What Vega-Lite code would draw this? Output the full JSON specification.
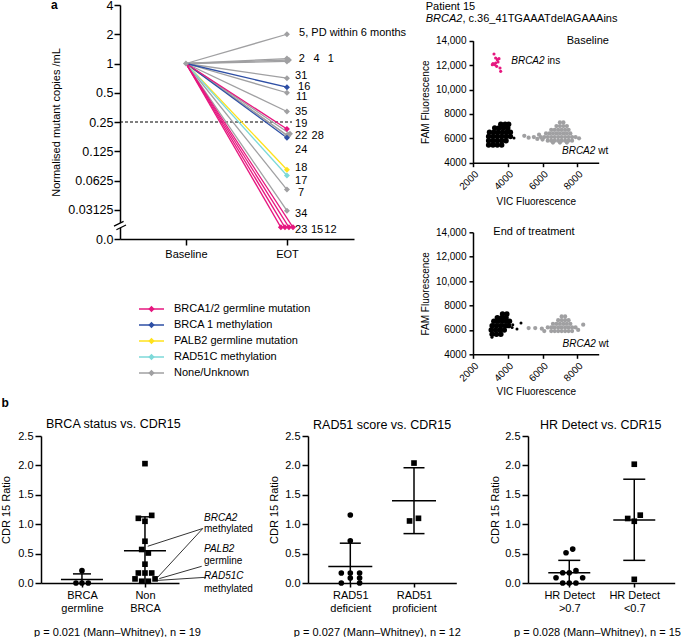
{
  "$schema": "https://vega.github.io/schema/vega-lite/v6.json",
  "background": "white",
  "padding": {"left": 0, "top": -1, "right": 0, "bottom": 0},
  "config": {
    "font": "Liberation Sans",
    "view": {"stroke": null},
    "axis": {"grid": false, "domainColor": "black", "tickColor": "black", "labelColor": "black", "titleColor": "black", "titleFontWeight": "normal", "domainWidth": 1.5, "tickWidth": 1.5, "labelFont": "Liberation Sans", "titleFont": "Liberation Sans"},
    "title": {"fontWeight": "normal", "color": "black", "font": "Liberation Sans", "subtitleColor": "black", "subtitleFont": "Liberation Sans"},
    "text": {"font": "Liberation Sans", "color": "black"}
  },
  "datasets": {
    "lines": [
      {"pid": "g5", "grp": "None/Unknown", "t": 0, "v": 0}, {"pid": "g5", "grp": "None/Unknown", "t": 1, "v": 1.0},
      {"pid": "g2", "grp": "None/Unknown", "t": 0, "v": 0}, {"pid": "g2", "grp": "None/Unknown", "t": 1, "v": 0.17},
      {"pid": "g4", "grp": "None/Unknown", "t": 0, "v": 0}, {"pid": "g4", "grp": "None/Unknown", "t": 1.02, "v": 0.12},
      {"pid": "g1", "grp": "None/Unknown", "t": 0, "v": 0}, {"pid": "g1", "grp": "None/Unknown", "t": 1, "v": 0.07},
      {"pid": "g31", "grp": "None/Unknown", "t": 0, "v": 0}, {"pid": "g31", "grp": "None/Unknown", "t": 1, "v": -0.5},
      {"pid": "g11", "grp": "None/Unknown", "t": 0, "v": 0}, {"pid": "g11", "grp": "None/Unknown", "t": 1, "v": -1.0},
      {"pid": "g35", "grp": "None/Unknown", "t": 0, "v": 0}, {"pid": "g35", "grp": "None/Unknown", "t": 1, "v": -1.64},
      {"pid": "g28", "grp": "None/Unknown", "t": 0, "v": 0}, {"pid": "g28", "grp": "None/Unknown", "t": 1.03, "v": -2.4},
      {"pid": "g24", "grp": "None/Unknown", "t": 0, "v": 0}, {"pid": "g24", "grp": "None/Unknown", "t": 1, "v": -2.45},
      {"pid": "g26", "grp": "None/Unknown", "t": 0, "v": 0}, {"pid": "g26", "grp": "None/Unknown", "t": 1.01, "v": -2.48},
      {"pid": "g7", "grp": "None/Unknown", "t": 0, "v": 0}, {"pid": "g7", "grp": "None/Unknown", "t": 1, "v": -4.31},
      {"pid": "g34", "grp": "None/Unknown", "t": 0, "v": 0}, {"pid": "g34", "grp": "None/Unknown", "t": 1, "v": -5.03},
      {"pid": "b16", "grp": "BRCA 1 methylation", "t": 0, "v": 0}, {"pid": "b16", "grp": "BRCA 1 methylation", "t": 1, "v": -0.81},
      {"pid": "b22", "grp": "BRCA 1 methylation", "t": 0, "v": 0}, {"pid": "b22", "grp": "BRCA 1 methylation", "t": 1, "v": -2.54},
      {"pid": "y18", "grp": "PALB2 germline mutation", "t": 0, "v": 0}, {"pid": "y18", "grp": "PALB2 germline mutation", "t": 1, "v": -3.63},
      {"pid": "c17", "grp": "RAD51C methylation", "t": 0, "v": 0}, {"pid": "c17", "grp": "RAD51C methylation", "t": 1, "v": -3.83},
      {"pid": "p19", "grp": "BRCA1/2 germline mutation", "t": 0, "v": 0}, {"pid": "p19", "grp": "BRCA1/2 germline mutation", "t": 1, "v": -2.24},
      {"pid": "p23", "grp": "BRCA1/2 germline mutation", "t": 0, "v": 0}, {"pid": "p23", "grp": "BRCA1/2 germline mutation", "t": 0.94, "v": -5.6},
      {"pid": "p15", "grp": "BRCA1/2 germline mutation", "t": 0, "v": 0}, {"pid": "p15", "grp": "BRCA1/2 germline mutation", "t": 0.98, "v": -5.6},
      {"pid": "p12", "grp": "BRCA1/2 germline mutation", "t": 0, "v": 0}, {"pid": "p12", "grp": "BRCA1/2 germline mutation", "t": 1.02, "v": -5.6},
      {"pid": "p12b", "grp": "BRCA1/2 germline mutation", "t": 0, "v": 0}, {"pid": "p12b", "grp": "BRCA1/2 germline mutation", "t": 1.06, "v": -5.6}
    ],
    "alab": [
      {"label": "5, PD within 6 months", "t": 1.12, "v": 1.03},
      {"label": "2", "t": 1.116, "v": 0.17}, {"label": "4", "t": 1.264, "v": 0.17}, {"label": "1", "t": 1.403, "v": 0.17},
      {"label": "31", "t": 1.08, "v": -0.44},
      {"label": "16", "t": 1.11, "v": -0.8},
      {"label": "11", "t": 1.09, "v": -1.16},
      {"label": "35", "t": 1.08, "v": -1.65},
      {"label": "19", "t": 1.08, "v": -2.06},
      {"label": "22", "t": 1.08, "v": -2.47}, {"label": "28", "t": 1.244, "v": -2.47},
      {"label": "24", "t": 1.08, "v": -2.96},
      {"label": "18", "t": 1.08, "v": -3.58},
      {"label": "17", "t": 1.08, "v": -4.0},
      {"label": "7", "t": 1.11, "v": -4.43},
      {"label": "34", "t": 1.08, "v": -5.16},
      {"label": "23", "t": 1.08, "v": -5.68}, {"label": "15", "t": 1.238, "v": -5.68}, {"label": "12", "t": 1.37, "v": -5.68}
    ],
    "s1": [
      {"vic": 2900, "fam": 5450, "pop": "neg"}, {"vic": 3150, "fam": 5450, "pop": "neg"}, {"vic": 3400, "fam": 5450, "pop": "neg"}, {"vic": 3650, "fam": 5450, "pop": "neg"},
      {"vic": 2900, "fam": 5800, "pop": "neg"}, {"vic": 3150, "fam": 5800, "pop": "neg"}, {"vic": 3400, "fam": 5800, "pop": "neg"}, {"vic": 3650, "fam": 5800, "pop": "neg"}, {"vic": 3900, "fam": 5800, "pop": "neg"},
      {"vic": 2900, "fam": 6150, "pop": "neg"}, {"vic": 3150, "fam": 6150, "pop": "neg"}, {"vic": 3400, "fam": 6150, "pop": "neg"}, {"vic": 3650, "fam": 6150, "pop": "neg"}, {"vic": 3900, "fam": 6150, "pop": "neg"}, {"vic": 4150, "fam": 6150, "pop": "neg"},
      {"vic": 2950, "fam": 6500, "pop": "neg"}, {"vic": 3200, "fam": 6500, "pop": "neg"}, {"vic": 3450, "fam": 6500, "pop": "neg"}, {"vic": 3700, "fam": 6500, "pop": "neg"}, {"vic": 3950, "fam": 6500, "pop": "neg"}, {"vic": 4150, "fam": 6500, "pop": "neg"},
      {"vic": 3250, "fam": 6850, "pop": "neg"}, {"vic": 3500, "fam": 6850, "pop": "neg"}, {"vic": 3750, "fam": 6850, "pop": "neg"}, {"vic": 4000, "fam": 6850, "pop": "neg"},
      {"vic": 3600, "fam": 7150, "pop": "neg"}, {"vic": 3850, "fam": 7150, "pop": "neg"}, {"vic": 4050, "fam": 7150, "pop": "neg"},
      {"vic": 4360, "fam": 6020, "pop": "negout"},
      {"vic": 6600, "fam": 5650, "pop": "wt"}, {"vic": 7000, "fam": 5650, "pop": "wt"}, {"vic": 7400, "fam": 5650, "pop": "wt"},
      {"vic": 6300, "fam": 5800, "pop": "wt"}, {"vic": 6500, "fam": 5800, "pop": "wt"}, {"vic": 6700, "fam": 5800, "pop": "wt"}, {"vic": 6900, "fam": 5800, "pop": "wt"}, {"vic": 7100, "fam": 5800, "pop": "wt"}, {"vic": 7300, "fam": 5800, "pop": "wt"}, {"vic": 7500, "fam": 5800, "pop": "wt"}, {"vic": 7700, "fam": 5800, "pop": "wt"},
      {"vic": 5900, "fam": 6100, "pop": "wt"}, {"vic": 6100, "fam": 6100, "pop": "wt"}, {"vic": 6300, "fam": 6100, "pop": "wt"}, {"vic": 6500, "fam": 6100, "pop": "wt"}, {"vic": 6700, "fam": 6100, "pop": "wt"}, {"vic": 6900, "fam": 6100, "pop": "wt"}, {"vic": 7100, "fam": 6100, "pop": "wt"}, {"vic": 7300, "fam": 6100, "pop": "wt"}, {"vic": 7500, "fam": 6100, "pop": "wt"}, {"vic": 7700, "fam": 6100, "pop": "wt"}, {"vic": 7900, "fam": 6100, "pop": "wt"},
      {"vic": 6200, "fam": 6400, "pop": "wt"}, {"vic": 6400, "fam": 6400, "pop": "wt"}, {"vic": 6600, "fam": 6400, "pop": "wt"}, {"vic": 6800, "fam": 6400, "pop": "wt"}, {"vic": 7000, "fam": 6400, "pop": "wt"}, {"vic": 7200, "fam": 6400, "pop": "wt"}, {"vic": 7400, "fam": 6400, "pop": "wt"}, {"vic": 7600, "fam": 6400, "pop": "wt"},
      {"vic": 6500, "fam": 6700, "pop": "wt"}, {"vic": 6700, "fam": 6700, "pop": "wt"}, {"vic": 6900, "fam": 6700, "pop": "wt"}, {"vic": 7100, "fam": 6700, "pop": "wt"}, {"vic": 7300, "fam": 6700, "pop": "wt"}, {"vic": 7500, "fam": 6700, "pop": "wt"},
      {"vic": 6800, "fam": 7000, "pop": "wt"}, {"vic": 7000, "fam": 7000, "pop": "wt"}, {"vic": 7200, "fam": 7000, "pop": "wt"}, {"vic": 7400, "fam": 7000, "pop": "wt"},
      {"vic": 7000, "fam": 7300, "pop": "wt"}, {"vic": 7200, "fam": 7300, "pop": "wt"},
      {"vic": 4950, "fam": 6200, "pop": "wt"}, {"vic": 5200, "fam": 6050, "pop": "wt"}, {"vic": 5500, "fam": 6100, "pop": "wt"}, {"vic": 5700, "fam": 5950, "pop": "wt"}, {"vic": 5800, "fam": 6300, "pop": "wt"}, {"vic": 8100, "fam": 6000, "pop": "wt"}, {"vic": 6000, "fam": 5900, "pop": "wt"},
      {"vic": 3208, "fam": 12907, "pop": "mut"}, {"vic": 3399, "fam": 12443, "pop": "mut"}, {"vic": 3303, "fam": 12579, "pop": "mut"}, {"vic": 3150, "fam": 12115, "pop": "mut"},
      {"vic": 3246, "fam": 12033, "pop": "mut"}, {"vic": 3361, "fam": 11896, "pop": "mut"}, {"vic": 3438, "fam": 12251, "pop": "mut"}, {"vic": 3553, "fam": 11760, "pop": "mut"},
      {"vic": 3591, "fam": 11486, "pop": "mut"}, {"vic": 3495, "fam": 12525, "pop": "mut"}, {"vic": 3303, "fam": 12169, "pop": "mut"}, {"vic": 3112, "fam": 12033, "pop": "mut"}
    ],
    "s2": [
      {"vic": 3100, "fam": 5650, "pop": "neg"}, {"vic": 3350, "fam": 5650, "pop": "neg"}, {"vic": 3600, "fam": 5650, "pop": "neg"},
      {"vic": 3050, "fam": 6000, "pop": "neg"}, {"vic": 3300, "fam": 6000, "pop": "neg"}, {"vic": 3550, "fam": 6000, "pop": "neg"}, {"vic": 3800, "fam": 6000, "pop": "neg"},
      {"vic": 3100, "fam": 6350, "pop": "neg"}, {"vic": 3350, "fam": 6350, "pop": "neg"}, {"vic": 3600, "fam": 6350, "pop": "neg"}, {"vic": 3850, "fam": 6350, "pop": "neg"}, {"vic": 4050, "fam": 6350, "pop": "neg"},
      {"vic": 3200, "fam": 6700, "pop": "neg"}, {"vic": 3450, "fam": 6700, "pop": "neg"}, {"vic": 3700, "fam": 6700, "pop": "neg"}, {"vic": 3950, "fam": 6700, "pop": "neg"}, {"vic": 4100, "fam": 6700, "pop": "neg"},
      {"vic": 3400, "fam": 7000, "pop": "neg"}, {"vic": 3650, "fam": 7000, "pop": "neg"}, {"vic": 3900, "fam": 7000, "pop": "neg"},
      {"vic": 3700, "fam": 7300, "pop": "neg"}, {"vic": 3950, "fam": 7300, "pop": "neg"},
      {"vic": 3090, "fam": 5400, "pop": "negout"}, {"vic": 4290, "fam": 6420, "pop": "negout"}, {"vic": 4530, "fam": 6070, "pop": "negout"}, {"vic": 4760, "fam": 6560, "pop": "negout"}, {"vic": 4250, "fam": 6200, "pop": "negout"},
      {"vic": 6500, "fam": 5900, "pop": "wt"}, {"vic": 6700, "fam": 5900, "pop": "wt"}, {"vic": 6900, "fam": 5900, "pop": "wt"}, {"vic": 7100, "fam": 5900, "pop": "wt"}, {"vic": 7300, "fam": 5900, "pop": "wt"}, {"vic": 7500, "fam": 5900, "pop": "wt"}, {"vic": 7700, "fam": 5900, "pop": "wt"},
      {"vic": 6300, "fam": 6200, "pop": "wt"}, {"vic": 6500, "fam": 6200, "pop": "wt"}, {"vic": 6700, "fam": 6200, "pop": "wt"}, {"vic": 6900, "fam": 6200, "pop": "wt"}, {"vic": 7100, "fam": 6200, "pop": "wt"}, {"vic": 7300, "fam": 6200, "pop": "wt"}, {"vic": 7500, "fam": 6200, "pop": "wt"}, {"vic": 7700, "fam": 6200, "pop": "wt"}, {"vic": 7900, "fam": 6200, "pop": "wt"},
      {"vic": 6600, "fam": 6500, "pop": "wt"}, {"vic": 6800, "fam": 6500, "pop": "wt"}, {"vic": 7000, "fam": 6500, "pop": "wt"}, {"vic": 7200, "fam": 6500, "pop": "wt"}, {"vic": 7400, "fam": 6500, "pop": "wt"}, {"vic": 7600, "fam": 6500, "pop": "wt"},
      {"vic": 6900, "fam": 6800, "pop": "wt"}, {"vic": 7100, "fam": 6800, "pop": "wt"}, {"vic": 7300, "fam": 6800, "pop": "wt"}, {"vic": 7500, "fam": 6800, "pop": "wt"},
      {"vic": 7100, "fam": 7100, "pop": "wt"}, {"vic": 7300, "fam": 7100, "pop": "wt"},
      {"vic": 5200, "fam": 6150, "pop": "wt"}, {"vic": 5580, "fam": 6150, "pop": "wt"}, {"vic": 5960, "fam": 6100, "pop": "wt"}, {"vic": 6100, "fam": 5900, "pop": "wt"}, {"vic": 8340, "fam": 6430, "pop": "wt"}, {"vic": 8050, "fam": 6000, "pop": "wt"}
    ],
    "pts": [
      {"panel": "b1", "x": 1.0, "y": 0.21, "shp": "c"}, {"panel": "b1", "x": 0.905, "y": 0, "shp": "c"}, {"panel": "b1", "x": 1.0, "y": 0, "shp": "c"}, {"panel": "b1", "x": 1.1, "y": 0, "shp": "c"},
      {"panel": "b1", "x": 2.0, "y": 2.03, "shp": "s"}, {"panel": "b1", "x": 1.895, "y": 1.1, "shp": "s"}, {"panel": "b1", "x": 2.107, "y": 1.15, "shp": "s"}, {"panel": "b1", "x": 2.0, "y": 1.05, "shp": "s"},
      {"panel": "b1", "x": 2.0, "y": 0.71, "shp": "s"}, {"panel": "b1", "x": 1.948, "y": 0.57, "shp": "s"}, {"panel": "b1", "x": 2.053, "y": 0.51, "shp": "s"}, {"panel": "b1", "x": 2.0, "y": 0.32, "shp": "s"},
      {"panel": "b1", "x": 1.895, "y": 0.17, "shp": "s"}, {"panel": "b1", "x": 2.0, "y": 0.17, "shp": "s"}, {"panel": "b1", "x": 2.107, "y": 0.17, "shp": "s"},
      {"panel": "b1", "x": 1.842, "y": 0.07, "shp": "s"}, {"panel": "b1", "x": 2.16, "y": 0.07, "shp": "s"}, {"panel": "b1", "x": 1.948, "y": 0.03, "shp": "s"}, {"panel": "b1", "x": 2.053, "y": 0.03, "shp": "s"},
      {"panel": "b2", "x": 1.0, "y": 1.157, "shp": "c"}, {"panel": "b2", "x": 1.0, "y": 0.717, "shp": "c"}, {"panel": "b2", "x": 0.859, "y": 0.17, "shp": "c"}, {"panel": "b2", "x": 1.0, "y": 0.17, "shp": "c"},
      {"panel": "b2", "x": 1.146, "y": 0.17, "shp": "c"}, {"panel": "b2", "x": 1.0, "y": 0.085, "shp": "c"}, {"panel": "b2", "x": 1.146, "y": 0.085, "shp": "c"}, {"panel": "b2", "x": 0.859, "y": 0, "shp": "c"}, {"panel": "b2", "x": 1.146, "y": 0, "shp": "c"},
      {"panel": "b2", "x": 2.0, "y": 2.04, "shp": "s"}, {"panel": "b2", "x": 2.07, "y": 1.1, "shp": "s"}, {"panel": "b2", "x": 1.93, "y": 1.055, "shp": "s"},
      {"panel": "b3", "x": 1.053, "y": 0.577, "shp": "c"}, {"panel": "b3", "x": 0.95, "y": 0.515, "shp": "c"}, {"panel": "b3", "x": 1.103, "y": 0.21, "shp": "c"}, {"panel": "b3", "x": 0.899, "y": 0.175, "shp": "c"},
      {"panel": "b3", "x": 1.0, "y": 0.175, "shp": "c"}, {"panel": "b3", "x": 0.796, "y": 0.09, "shp": "c"}, {"panel": "b3", "x": 1.206, "y": 0.09, "shp": "c"}, {"panel": "b3", "x": 0.899, "y": 0, "shp": "c"},
      {"panel": "b3", "x": 1.0, "y": 0, "shp": "c"}, {"panel": "b3", "x": 1.103, "y": 0, "shp": "c"},
      {"panel": "b3", "x": 2.0, "y": 2.02, "shp": "s"}, {"panel": "b3", "x": 2.092, "y": 1.154, "shp": "s"}, {"panel": "b3", "x": 1.899, "y": 1.097, "shp": "s"}, {"panel": "b3", "x": 2.0, "y": 1.05, "shp": "s"}, {"panel": "b3", "x": 2.0, "y": 0.062, "shp": "s"}
    ],
    "sd": [
      {"panel": "b1", "x": 1, "y": 0, "y2": 0.155}, {"panel": "b1", "x": 2, "y": 0, "y2": 1.125},
      {"panel": "b2", "x": 1, "y": 0, "y2": 0.677}, {"panel": "b2", "x": 2, "y": 0.84, "y2": 1.96},
      {"panel": "b3", "x": 1, "y": 0, "y2": 0.385}, {"panel": "b3", "x": 2, "y": 0.385, "y2": 1.765}
    ],
    "mk": [
      {"panel": "b1", "x": 1, "y": 0.058, "kind": "mean"}, {"panel": "b1", "x": 2, "y": 0.55, "kind": "mean"},
      {"panel": "b1", "x": 1, "y": 0.155, "kind": "cap"}, {"panel": "b1", "x": 2, "y": 1.125, "kind": "cap"},
      {"panel": "b2", "x": 1, "y": 0.282, "kind": "mean"}, {"panel": "b2", "x": 2, "y": 1.4, "kind": "mean"},
      {"panel": "b2", "x": 1, "y": 0.677, "kind": "cap"}, {"panel": "b2", "x": 2, "y": 1.96, "kind": "cap"}, {"panel": "b2", "x": 2, "y": 0.84, "kind": "cap"},
      {"panel": "b3", "x": 1, "y": 0.175, "kind": "mean"}, {"panel": "b3", "x": 2, "y": 1.07, "kind": "mean"},
      {"panel": "b3", "x": 1, "y": 0.385, "kind": "cap"}, {"panel": "b3", "x": 2, "y": 1.765, "kind": "cap"}, {"panel": "b3", "x": 2, "y": 0.385, "kind": "cap"}
    ]
  },
  "concat": [
    {
      "concat": [
        {
          "vconcat": [
            {
              "width": 313,
              "height": 234,
              "title": {"text": "a", "anchor": "start", "frame": "group", "dx": 10, "offset": 1, "dy": 14, "fontSize": 12, "fontWeight": "bold"},
              "encoding": {
                "x": {"field": "t", "type": "quantitative", "scale": {"domain": [-0.653, 1.664], "range": [79, 313], "nice": false, "zero": false},
                  "axis": {"values": [0, 1], "labelExpr": "datum.value == 0 ? 'Baseline' : 'EOT'", "title": null, "tickSize": 6, "labelFontSize": 11, "labelPadding": 3}},
                "y": {"field": "v", "type": "quantitative", "scale": {"domain": [-6, 2], "nice": false, "zero": false},
                  "axis": {"offset": -79, "values": [-6, -5, -4, -3, -2, -1, 0, 1, 2], "labelExpr": "datum.value == 2 ? '4' : datum.value == 1 ? '2' : datum.value == 0 ? '1' : datum.value == -1 ? '0.5' : datum.value == -2 ? '0.25' : datum.value == -3 ? '0.125' : datum.value == -4 ? '0.0625' : datum.value == -5 ? '0.03125' : '0.0'", "title": "Normalised mutant copies /mL", "titleFontSize": 11, "titleX": -64, "titleBaseline": "middle", "tickSize": 6, "labelFontSize": 12.5, "labelPadding": 1}}
              },
              "layer": [
                {"data": {"values": [{"t": -0.653, "t2": 1.05, "v": -2}]}, "mark": {"type": "rule", "strokeDash": [3, 2], "strokeWidth": 1.2, "color": "black"}, "encoding": {"x2": {"field": "t2"}}},
                {"data": {"name": "lines"}, "mark": {"type": "line", "strokeWidth": 1.3},
                  "encoding": {"detail": {"field": "pid"}, "color": {"field": "grp", "type": "nominal", "scale": {"domain": ["BRCA1/2 germline mutation", "BRCA 1 methylation", "PALB2 germline mutation", "RAD51C methylation", "None/Unknown"], "range": ["#E6177F", "#2E4FA5", "#FFE21C", "#7DD9D9", "#A0A0A2"]}, "legend": null}}},
                {"data": {"name": "lines"}, "transform": [{"filter": "datum.t > 0.5"}], "mark": {"type": "point", "shape": "diamond", "filled": true, "size": 36, "opacity": 1},
                  "encoding": {"color": {"field": "grp", "type": "nominal", "scale": {"domain": ["BRCA1/2 germline mutation", "BRCA 1 methylation", "PALB2 germline mutation", "RAD51C methylation", "None/Unknown"], "range": ["#E6177F", "#2E4FA5", "#FFE21C", "#7DD9D9", "#A0A0A2"]}, "legend": null}}},
                {"data": {"values": [{"t": 0, "v": 0}]}, "mark": {"type": "point", "shape": "diamond", "filled": true, "size": 36, "opacity": 1, "color": "#A0A0A2"}},
                {"data": {"name": "alab"}, "mark": {"type": "text", "align": "left", "baseline": "middle", "fontSize": 11}, "encoding": {"text": {"field": "label"}}},
                {"data": {"values": [{"t": -0.653, "v": -5.54}]}, "mark": {"type": "point", "shape": "M-1,0.1L0.6,-0.7L1,-0.1L-0.6,0.7Z", "filled": true, "color": "white", "strokeWidth": 0, "size": 144, "opacity": 1}},
                {"data": {"values": [{"t": -0.653, "v": -5.54}]}, "mark": {"type": "point", "shape": "M-1,0.1L0.6,-0.7M-0.6,0.7L1,-0.1", "filled": false, "color": "black", "strokeWidth": 1.2, "size": 144, "opacity": 1}}
              ]
            },
            {
              "width": 313,
              "height": 80,
              "data": {"values": [{"grp": "BRCA1/2 germline mutation"}, {"grp": "BRCA 1 methylation"}, {"grp": "PALB2 germline mutation"}, {"grp": "RAD51C methylation"}, {"grp": "None/Unknown"}]},
              "encoding": {"y": {"field": "grp", "type": "nominal", "scale": {"type": "point", "padding": 0.5, "domain": ["BRCA1/2 germline mutation", "BRCA 1 methylation", "PALB2 germline mutation", "RAD51C methylation", "None/Unknown"]}, "axis": null}},
              "layer": [
                {"mark": {"type": "rule", "strokeWidth": 1.5},
                  "encoding": {"x": {"datum": 0, "type": "quantitative", "scale": {"domain": [-3.92, 8.6], "nice": false, "zero": false}, "axis": null}, "x2": {"datum": 1},
                    "color": {"field": "grp", "type": "nominal", "scale": {"domain": ["BRCA1/2 germline mutation", "BRCA 1 methylation", "PALB2 germline mutation", "RAD51C methylation", "None/Unknown"], "range": ["#E6177F", "#2E4FA5", "#FFE21C", "#7DD9D9", "#A0A0A2"]}, "legend": null}}},
                {"mark": {"type": "point", "shape": "diamond", "filled": true, "size": 40, "opacity": 1},
                  "encoding": {"x": {"datum": 0.5, "type": "quantitative"},
                    "color": {"field": "grp", "type": "nominal", "scale": {"domain": ["BRCA1/2 germline mutation", "BRCA 1 methylation", "PALB2 germline mutation", "RAD51C methylation", "None/Unknown"], "range": ["#E6177F", "#2E4FA5", "#FFE21C", "#7DD9D9", "#A0A0A2"]}, "legend": null}}},
                {"mark": {"type": "text", "align": "left", "baseline": "middle", "fontSize": 11}, "encoding": {"x": {"datum": 1.4, "type": "quantitative"}, "text": {"field": "grp"}}}
              ]
            }
          ],
          "spacing": 62,
          "bounds": "flush"
        },
        {
          "vconcat": [
            {
              "width": 125.7,
              "height": 157.7,
              "encoding": {
                "x": {"field": "vic", "type": "quantitative", "scale": {"domain": [2000, 9231], "nice": false, "zero": false},
                  "axis": {"values": [2000, 4000, 6000, 8000], "format": "d", "labelAngle": -45, "labelFontSize": 10, "tickSize": 4, "labelPadding": 2, "title": "VIC Fluorescence", "titleFontSize": 10, "titleY": 38.3, "titleBaseline": "middle"}},
                "y": {"field": "fam", "type": "quantitative", "scale": {"domain": [4000, 14000], "range": [157.7, 35.7], "nice": false, "zero": false},
                  "axis": {"values": [4000, 6000, 8000, 10000, 12000, 14000], "labelExpr": "datum.value >= 10000 ? format(datum.value, ',') : format(datum.value, 'd')", "labelFontSize": 10, "tickSize": 4, "labelPadding": 3, "title": "FAM Fluorescence", "titleFontSize": 10, "titleX": -48, "titleY": 96.7, "titleBaseline": "middle"}}
              },
              "layer": [
                {"data": {"name": "s1"}, "transform": [{"filter": "datum.pop == 'neg'"}], "mark": {"type": "circle", "size": 30, "color": "black", "opacity": 1}},
                {"data": {"name": "s1"}, "transform": [{"filter": "datum.pop == 'negout'"}], "mark": {"type": "circle", "size": 9, "color": "black", "opacity": 1}},
                {"data": {"name": "s1"}, "transform": [{"filter": "datum.pop == 'wt'"}], "mark": {"type": "circle", "size": 18, "color": "#A0A0A2", "opacity": 1}},
                {"data": {"name": "s1"}, "transform": [{"filter": "datum.pop == 'mut'"}], "mark": {"type": "circle", "size": 10, "color": "#E6177F", "opacity": 1}},
                {"data": {"values": [{"vic": 7390, "fam": 14000, "txt": "Baseline"}, {"vic": -722, "fam": 16790, "txt": "Patient 15"}, {"vic": 1389, "fam": 15750, "txt": ", c.36_41TGAAATdelAGAAAins"}]}, "mark": {"type": "text", "align": "left", "baseline": "middle", "fontSize": 11}, "encoding": {"text": {"field": "txt"}}},
                {"data": {"values": [{"vic": -722, "fam": 15750, "txt": "BRCA2"}]}, "mark": {"type": "text", "align": "left", "baseline": "middle", "fontSize": 11, "fontStyle": "italic"}, "encoding": {"text": {"field": "txt"}}},
                {"data": {"values": [{"vic": 4200, "fam": 12300, "txt": "BRCA2"}, {"vic": 7120, "fam": 4934, "txt": "BRCA2"}]}, "mark": {"type": "text", "align": "left", "baseline": "middle", "fontSize": 10, "fontStyle": "italic"}, "encoding": {"text": {"field": "txt"}}},
                {"data": {"values": [{"vic": 6280, "fam": 12300, "txt": "ins"}, {"vic": 9200, "fam": 4934, "txt": "wt"}]}, "mark": {"type": "text", "align": "left", "baseline": "middle", "fontSize": 10}, "encoding": {"text": {"field": "txt"}}}
              ]
            },
            {
              "width": 125.7,
              "height": 122,
              "encoding": {
                "x": {"field": "vic", "type": "quantitative", "scale": {"domain": [2000, 9231], "nice": false, "zero": false},
                  "axis": {"values": [2000, 4000, 6000, 8000], "format": "d", "labelAngle": -45, "labelFontSize": 10, "tickSize": 4, "labelPadding": 2, "title": "VIC Fluorescence", "titleFontSize": 10, "titleY": 36.7, "titleBaseline": "middle"}},
                "y": {"field": "fam", "type": "quantitative", "scale": {"domain": [4000, 14000], "nice": false, "zero": false},
                  "axis": {"values": [4000, 6000, 8000, 10000, 12000, 14000], "labelExpr": "datum.value >= 10000 ? format(datum.value, ',') : format(datum.value, 'd')", "labelFontSize": 10, "tickSize": 4, "labelPadding": 3, "title": "FAM Fluorescence", "titleFontSize": 10, "titleX": -48, "titleBaseline": "middle"}}
              },
              "layer": [
                {"data": {"name": "s2"}, "transform": [{"filter": "datum.pop == 'neg'"}], "mark": {"type": "circle", "size": 30, "color": "black", "opacity": 1}},
                {"data": {"name": "s2"}, "transform": [{"filter": "datum.pop == 'negout'"}], "mark": {"type": "circle", "size": 9, "color": "black", "opacity": 1}},
                {"data": {"name": "s2"}, "transform": [{"filter": "datum.pop == 'wt'"}], "mark": {"type": "circle", "size": 18, "color": "#A0A0A2", "opacity": 1}},
                {"data": {"values": [{"vic": 3170, "fam": 14000, "txt": "End of treatment"}]}, "mark": {"type": "text", "align": "left", "baseline": "middle", "fontSize": 11}, "encoding": {"text": {"field": "txt"}}},
                {"data": {"values": [{"vic": 7150, "fam": 4870, "txt": "BRCA2"}]}, "mark": {"type": "text", "align": "left", "baseline": "middle", "fontSize": 10, "fontStyle": "italic"}, "encoding": {"text": {"field": "txt"}}},
                {"data": {"values": [{"vic": 9230, "fam": 4870, "txt": "wt"}]}, "mark": {"type": "text", "align": "left", "baseline": "middle", "fontSize": 10}, "encoding": {"text": {"field": "txt"}}}
              ]
            }
          ],
          "spacing": 69.3,
          "bounds": "flush"
        }
      ],
      "columns": 2,
      "spacing": 12,
      "align": "none"
    },
    {
      "hconcat": [
        {
          "width": 195.7,
          "height": 147,
          "title": {"text": "BRCA status vs. CDR15", "fontSize": 12.5, "anchor": "start", "frame": "group", "offset": -39, "baseline": "middle", "dx": 5},
          "encoding": {
            "x": {"field": "x", "type": "quantitative", "scale": {"domain": [0.35, 2.54], "range": [0, 138], "nice": false, "zero": false},
              "axis": {"values": [1, 2], "labelExpr": "datum.value == 1 ? ['BRCA', 'germline'] : ['Non', 'BRCA']", "labelFontSize": 11, "labelLineHeight": 13, "tickSize": 4, "labelPadding": 2, "title": "p = 0.021 (Mann–Whitney), n = 19", "titleFontSize": 11, "titleX": 76, "titleY": 49, "titleBaseline": "middle"}},
            "y": {"field": "y", "type": "quantitative", "scale": {"domain": [0, 2.5], "nice": false, "zero": false},
              "axis": {"values": [0, 0.5, 1, 1.5, 2, 2.5], "format": ".1f", "labelFontSize": 11, "tickSize": 6, "labelPadding": 2, "title": "CDR 15 Ratio", "titleFontSize": 11, "titleX": -35, "titleBaseline": "middle"}}
          },
          "layer": [
            {"data": {"name": "sd"}, "transform": [{"filter": "datum.panel == 'b1'"}], "mark": {"type": "rule", "strokeWidth": 1.5, "color": "black"}, "encoding": {"y2": {"field": "y2"}}},
            {"data": {"name": "mk"}, "transform": [{"filter": "datum.panel == 'b1' && datum.kind == 'mean'"}], "mark": {"type": "tick", "orient": "horizontal", "size": 42, "thickness": 1.5, "color": "black", "opacity": 1}},
            {"data": {"name": "mk"}, "transform": [{"filter": "datum.panel == 'b1' && datum.kind == 'cap'"}], "mark": {"type": "tick", "orient": "horizontal", "size": 18, "thickness": 1.5, "color": "black", "opacity": 1}},
            {"data": {"name": "pts"}, "transform": [{"filter": "datum.panel == 'b1'"}], "mark": {"type": "point", "filled": true, "size": 32, "opacity": 1, "color": "black"},
              "encoding": {"shape": {"field": "shp", "type": "nominal", "scale": {"domain": ["c", "s"], "range": ["circle", "square"]}, "legend": null}}},
            {"data": {"values": [{"x": 2.917, "y": 0.927, "x2": 2.044, "y2": 0.625}, {"x": 2.917, "y": 0.927, "x2": 2.202, "y2": 0.097}, {"x": 2.9, "y": 0.284, "x2": 2.228, "y2": 0.075}, {"x": 2.969, "y": 0.097, "x2": 2.148, "y2": 0.041}]},
              "mark": {"type": "rule", "strokeWidth": 0.8, "color": "black"}, "encoding": {"x2": {"field": "x2"}, "y2": {"field": "y2"}}},
            {"data": {"values": [{"x": 2.937, "y": 1.107, "txt": "BRCA2"}, {"x": 2.937, "y": 0.579, "txt": "PALB2"}, {"x": 2.937, "y": 0.126, "txt": "RAD51C"}]},
              "mark": {"type": "text", "align": "left", "baseline": "middle", "fontSize": 10, "fontStyle": "italic"}, "encoding": {"text": {"field": "txt"}}},
            {"data": {"values": [{"x": 2.937, "y": 0.91, "txt": "methylated"}, {"x": 2.937, "y": 0.37, "txt": "germline"}, {"x": 2.937, "y": -0.1, "txt": "methylated"}]},
              "mark": {"type": "text", "align": "left", "baseline": "middle", "fontSize": 10}, "encoding": {"text": {"field": "txt"}}},
            {"data": {"values": [{"x": -0.277, "y": 2.99, "txt": "b"}]},
              "mark": {"type": "text", "align": "left", "baseline": "alphabetic", "fontSize": 12, "fontWeight": "bold"}, "encoding": {"text": {"field": "txt"}}}
          ]
        },
        {
          "width": 148.3,
          "height": 147,
          "title": {"text": "RAD51 score vs. CDR15", "fontSize": 12.5, "anchor": "middle", "frame": "group", "offset": -7, "baseline": "middle", "dx": 0},
          "encoding": {
            "x": {"field": "x", "type": "quantitative", "scale": {"domain": [0.336, 2.664], "nice": false, "zero": false},
              "axis": {"values": [1, 2], "labelExpr": "datum.value == 1 ? ['RAD51', 'deficient'] : ['RAD51', 'proficient']", "labelFontSize": 11, "labelLineHeight": 13, "tickSize": 4, "labelPadding": 2, "title": "p = 0.027 (Mann–Whitney), n = 12", "titleFontSize": 11, "titleX": 68.8, "titleY": 49, "titleBaseline": "middle"}},
            "y": {"field": "y", "type": "quantitative", "scale": {"domain": [0, 2.5], "nice": false, "zero": false},
              "axis": {"values": [0, 0.5, 1, 1.5, 2, 2.5], "format": ".1f", "labelFontSize": 11, "tickSize": 6, "labelPadding": 2, "title": "CDR 15 Ratio", "titleFontSize": 11, "titleX": -34, "titleBaseline": "middle"}}
          },
          "layer": [
            {"data": {"name": "sd"}, "transform": [{"filter": "datum.panel == 'b2'"}], "mark": {"type": "rule", "strokeWidth": 1.5, "color": "black"}, "encoding": {"y2": {"field": "y2"}}},
            {"data": {"name": "mk"}, "transform": [{"filter": "datum.panel == 'b2' && datum.kind == 'mean'"}], "mark": {"type": "tick", "orient": "horizontal", "size": 44, "thickness": 1.5, "color": "black", "opacity": 1}},
            {"data": {"name": "mk"}, "transform": [{"filter": "datum.panel == 'b2' && datum.kind == 'cap'"}], "mark": {"type": "tick", "orient": "horizontal", "size": 21, "thickness": 1.5, "color": "black", "opacity": 1}},
            {"data": {"name": "pts"}, "transform": [{"filter": "datum.panel == 'b2'"}], "mark": {"type": "point", "filled": true, "size": 32, "opacity": 1, "color": "black"},
              "encoding": {"shape": {"field": "shp", "type": "nominal", "scale": {"domain": ["c", "s"], "range": ["circle", "square"]}, "legend": null}}}
          ]
        },
        {
          "width": 146.7,
          "height": 147,
          "title": {"text": "HR Detect vs. CDR15", "fontSize": 12.5, "anchor": "middle", "frame": "group", "offset": -7, "baseline": "middle", "dx": -0.6},
          "encoding": {
            "x": {"field": "x", "type": "quantitative", "scale": {"domain": [0.365, 2.622], "nice": false, "zero": false},
              "axis": {"values": [1, 2], "labelExpr": "datum.value == 1 ? ['HR Detect', '>0.7'] : ['HR Detect', '<0.7']", "labelFontSize": 11, "labelLineHeight": 13, "tickSize": 4, "labelPadding": 2, "title": "p = 0.028 (Mann–Whitney), n = 15", "titleFontSize": 11, "titleX": 69, "titleY": 49, "titleBaseline": "middle"}},
            "y": {"field": "y", "type": "quantitative", "scale": {"domain": [0, 2.5], "nice": false, "zero": false},
              "axis": {"values": [0, 0.5, 1, 1.5, 2, 2.5], "format": ".1f", "labelFontSize": 11, "tickSize": 6, "labelPadding": 2, "title": "CDR 15 Ratio", "titleFontSize": 11, "titleX": -33, "titleBaseline": "middle"}}
          },
          "layer": [
            {"data": {"name": "sd"}, "transform": [{"filter": "datum.panel == 'b3'"}], "mark": {"type": "rule", "strokeWidth": 1.5, "color": "black"}, "encoding": {"y2": {"field": "y2"}}},
            {"data": {"name": "mk"}, "transform": [{"filter": "datum.panel == 'b3' && datum.kind == 'mean'"}], "mark": {"type": "tick", "orient": "horizontal", "size": 42, "thickness": 1.5, "color": "black", "opacity": 1}},
            {"data": {"name": "mk"}, "transform": [{"filter": "datum.panel == 'b3' && datum.kind == 'cap'"}], "mark": {"type": "tick", "orient": "horizontal", "size": 22, "thickness": 1.5, "color": "black", "opacity": 1}},
            {"data": {"name": "pts"}, "transform": [{"filter": "datum.panel == 'b3'"}], "mark": {"type": "point", "filled": true, "size": 32, "opacity": 1, "color": "black"},
              "encoding": {"shape": {"field": "shp", "type": "nominal", "scale": {"domain": ["c", "s"], "range": ["circle", "square"]}, "legend": null}}}
          ]
        }
      ],
      "spacing": 71,
      "bounds": "flush"
    }
  ],
  "columns": 1,
  "spacing": 1,
  "align": "none"
}
